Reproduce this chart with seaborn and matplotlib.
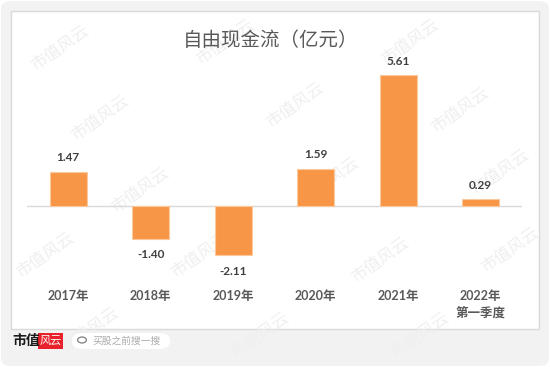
import matplotlib
matplotlib.use("Agg")
import matplotlib.pyplot as plt
import seaborn as sns
import pandas as pd
from matplotlib.patches import FancyBboxPatch, Rectangle, Circle

categories = ["2017年", "2018年", "2019年", "2020年", "2021年", "2022年\n第一季度"]
values = [1.47, -1.40, -2.11, 1.59, 5.61, 0.29]
title = "自由现金流（亿元）"

sns.set_theme(style="white")
plt.rcParams['font.family'] = ['Lato', 'Noto Sans CJK SC', 'DejaVu Sans']

W, H = 550, 367
fig = plt.figure(figsize=(5.5, 3.67), dpi=100, facecolor="white")

def fx(x): return x / W
def fy(y): return 1 - y / H

# outer grey card
fig.patches.append(FancyBboxPatch((fx(1), fy(366)), fx(548), 365 / H,
                                  boxstyle="round,pad=0,rounding_size=0.02",
                                  transform=fig.transFigure, facecolor="#f2f2f2",
                                  edgecolor="none", zorder=0))
# white panel
fig.patches.append(Rectangle((fx(11), fy(329)), fx(528), 318 / H,
                             transform=fig.transFigure, facecolor="white",
                             edgecolor="#d9d9d9", linewidth=1.0, zorder=1))

# watermarks
wm_pos = [(60, 48), (225, 42), (410, 42),
          (100, 118), (295, 105), (460, 110),
          (140, 190), (330, 180), (500, 172),
          (45, 255), (200, 255), (380, 260), (510, 250),
          (90, 330), (260, 335), (420, 335)]
for (x, y) in wm_pos:
    fig.text(fx(x), fy(y), "市值风云", rotation=35, fontsize=12,
             color="#efefef", ha="center", va="center",
             family=["Noto Sans CJK SC"], zorder=2)

ax = fig.add_axes([fx(27), fy(276), fx(495), 210 / H])
ax.set_zorder(3)
ax.patch.set_alpha(0)

df = pd.DataFrame({"cat": categories, "val": values})
sns.barplot(data=df, x="cat", y="val", color="#F79646", saturation=1,
            width=0.45, ax=ax, zorder=3, edgecolor="#fbc99e", linewidth=0.8)
ax.axhline(0, color="#d9d9d9", linewidth=1.0, zorder=2)
ax.set_ylim(-3, 6)
ax.set_xlim(-0.5, 5.5)
for s in ax.spines.values():
    s.set_visible(False)
ax.set_yticks([])
ax.set_xlabel("")
ax.set_ylabel("")
ax.tick_params(axis="x", length=0, pad=10)
ax.set_xticks(range(len(categories)))
ax.set_xticklabels(categories, fontsize=9, fontweight="bold", color="#595959",
                   linespacing=1.45)

for i, v in enumerate(values):
    off = 14 if v >= 0 else -16
    ax.annotate(f"{v:.2f}", (i, v), xytext=(0, off), textcoords="offset pixels",
                ha="center", va="center", fontsize=8.5, fontweight="bold",
                color="#404040")

fig.text(fx(271), fy(40), title, fontsize=14, color="#595959",
         ha="center", va="center", family=["Noto Sans CJK SC"])

# footer logo
fig.text(fx(12), fy(341), "市值", fontsize=10, fontweight="bold", color="#1a1a1a",
         ha="left", va="center", family=["Noto Sans CJK SC"])
fig.patches.append(Rectangle((fx(38), fy(349)), fx(25), 16 / H,
                             transform=fig.transFigure, facecolor="#e8212a",
                             edgecolor="none", zorder=3))
fig.text(fx(50.5), fy(341), "风云", fontsize=8, color="white", style="italic",
         ha="center", va="center", family=["Noto Sans CJK SC"])
fig.patches.append(FancyBboxPatch((fx(72), fy(349)), fx(98), 16 / H,
                                  boxstyle="round,pad=0,rounding_size=0.02",
                                  transform=fig.transFigure, facecolor="white",
                                  edgecolor="none", zorder=3))
fig.patches.append(Circle((fx(82), fy(340)), 0.008, transform=fig.transFigure,
                          facecolor="none", edgecolor="#888888", linewidth=1.0,
                          zorder=4))
fig.text(fx(92), fy(341), "买股之前搜一搜", fontsize=7, color="#aaaaaa",
         ha="left", va="center", family=["Noto Sans CJK SC"])

fig.savefig("out.png", dpi=100)
